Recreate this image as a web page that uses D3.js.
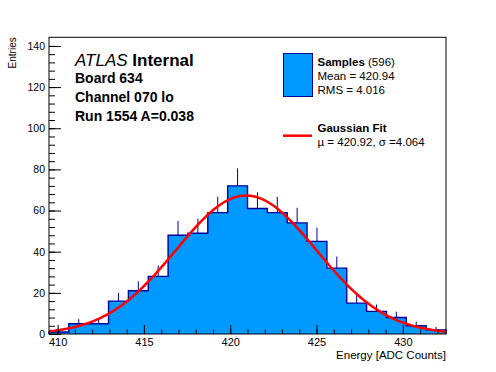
<!DOCTYPE html>
<html>
<head>
<meta charset="utf-8">
<script src="https://cdn.jsdelivr.net/npm/d3@7"></script>
<style>
  body { margin: 0; background: #fff; }
  text { font-family: "Liberation Sans", Arial, Helvetica, sans-serif; }
</style>
</head>
<body>
<div id="chart"></div>
<script>
// Data
const counts = [1, 5, 5, 16, 21, 28, 48, 49, 59, 72, 61, 59, 54, 45, 32, 15, 11, 8, 4, 2];
const xRange = [409.5, 432.5];   // histogram range, 20 bins
const yRange = [0, 144.2];
const xTickValues = [410, 415, 420, 425, 430];
const yTickValues = [0, 20, 40, 60, 80, 100, 120, 140];
const infoLines = ["Board 634", "Channel 070 lo", "Run 1554 A=0.038"];
const nSamples = 596;
const sampleMean = "420.94";
const sampleRms = "4.016";
const fitMu = 420.92;
const fitSigma = 4.064;

const width = 496, height = 372;
const frame = { left: 49, right: 446, top: 37.3, bottom: 334 };

const svg = d3.select("#chart")
  .append("svg")
  .attr("width", width)
  .attr("height", height);

const x = d3.scaleLinear().domain(xRange).range([frame.left, frame.right]);
const y = d3.scaleLinear().domain(yRange).range([frame.bottom, frame.top]);

const binWidth = (xRange[1] - xRange[0]) / counts.length;
const bins = counts.map((c, i) => ({
  x0: xRange[0] + i * binWidth,
  x1: xRange[0] + (i + 1) * binWidth,
  n: c
}));

// histogram as a step polygon
const stepPts = [[x(bins[0].x0), y(0)]];
bins.forEach(b => {
  stepPts.push([x(b.x0), y(b.n)]);
  stepPts.push([x(b.x1), y(b.n)]);
});
stepPts.push([x(bins[bins.length - 1].x1), y(0)]);

svg.append("path")
  .attr("d", d3.line()(stepPts))
  .attr("fill", "#0099ff")
  .attr("stroke", "#000099")
  .attr("stroke-width", 1.4);

// error bars (upper half only is visible)
svg.selectAll(".err")
  .data(bins)
  .enter()
  .append("line")
  .attr("class", "err")
  .attr("x1", d => x((d.x0 + d.x1) / 2))
  .attr("x2", d => x((d.x0 + d.x1) / 2))
  .attr("y1", d => y(d.n))
  .attr("y2", d => y(d.n + Math.sqrt(d.n)))
  .attr("stroke", "#000099")
  .attr("stroke-width", 1);

// gaussian fit curve from the fitted parameters
const amp = nSamples * binWidth / (fitSigma * Math.sqrt(2 * Math.PI));
const fitPts = d3.range(0, 201).map(i => {
  const xv = xRange[0] + i * (xRange[1] - xRange[0]) / 200;
  return [xv, amp * Math.exp(-0.5 * Math.pow((xv - fitMu) / fitSigma, 2))];
});
svg.append("path")
  .attr("d", d3.line().x(d => x(d[0])).y(d => y(d[1]))(fitPts))
  .attr("fill", "none")
  .attr("stroke", "#ff0000")
  .attr("stroke-width", 2.5);

// axes
const yMinor = d3.range(0, 144, 4);
svg.append("g")
  .attr("transform", `translate(${frame.left},0)`)
  .call(d3.axisLeft(y).tickValues(yMinor).tickSize(-6).tickFormat(""))
  .call(g => g.select(".domain").remove());
svg.append("g")
  .attr("transform", `translate(${frame.left},0)`)
  .call(d3.axisLeft(y).tickValues(yTickValues).tickSize(-12).tickPadding(4))
  .call(g => g.select(".domain").remove())
  .call(g => g.selectAll("text").attr("font-size", 10.5).attr("fill", "#000").style("font-family", null));

const xMinor = d3.range(410, 433, 1);
svg.append("g")
  .attr("transform", `translate(0,${frame.bottom})`)
  .call(d3.axisBottom(x).tickValues(xMinor).tickSize(-4.5).tickFormat(""))
  .call(g => g.select(".domain").remove());
svg.append("g")
  .attr("transform", `translate(0,${frame.bottom})`)
  .call(d3.axisBottom(x).tickValues(xTickValues).tickSize(-9).tickPadding(4))
  .call(g => g.select(".domain").remove())
  .call(g => g.selectAll("text").attr("font-size", 11).attr("fill", "#000").style("font-family", null));

svg.selectAll(".tick line").attr("stroke", "#000");

// frame
svg.append("rect")
  .attr("x", frame.left)
  .attr("y", frame.top)
  .attr("width", frame.right - frame.left)
  .attr("height", frame.bottom - frame.top)
  .attr("fill", "none")
  .attr("stroke", "#000")
  .attr("stroke-width", 1);

// axis titles
svg.append("text")
  .attr("x", frame.right)
  .attr("y", 358.5)
  .attr("text-anchor", "end")
  .attr("font-size", 11.5)
  .text("Energy [ADC Counts]");

svg.append("text")
  .attr("transform", `translate(16,${frame.top}) rotate(-90)`)
  .attr("text-anchor", "end")
  .attr("font-size", 10)
  .text("Entries");

// ATLAS label
const atlas = svg.append("text")
  .attr("x", 75)
  .attr("y", 66)
  .attr("font-size", 17);
atlas.append("tspan").attr("font-style", "italic").text("ATLAS");
atlas.append("tspan").attr("font-weight", "bold").text(" Internal");

svg.selectAll(".info")
  .data(infoLines)
  .enter()
  .append("text")
  .attr("class", "info")
  .attr("x", 75)
  .attr("y", (d, i) => 82.5 + i * 19.2)
  .attr("font-size", 14)
  .attr("font-weight", "bold")
  .text(d => d);

// legend
svg.append("rect")
  .attr("x", 283.5)
  .attr("y", 53.5)
  .attr("width", 29)
  .attr("height", 43)
  .attr("fill", "#0099ff")
  .attr("stroke", "#000099")
  .attr("stroke-width", 1);

const l1 = svg.append("text").attr("x", 317.5).attr("y", 66).attr("font-size", 11.5);
l1.append("tspan").attr("font-weight", "bold").text("Samples");
l1.append("tspan").text(` (${nSamples})`);
svg.append("text").attr("x", 317.5).attr("y", 80).attr("font-size", 11.5).text(`Mean = ${sampleMean}`);
svg.append("text").attr("x", 317.5).attr("y", 94).attr("font-size", 11.5).text(`RMS = ${sampleRms}`);

svg.append("line")
  .attr("x1", 283).attr("x2", 312)
  .attr("y1", 135.7).attr("y2", 135.7)
  .attr("stroke", "#ff0000")
  .attr("stroke-width", 2.5);
svg.append("text").attr("x", 317.5).attr("y", 132).attr("font-size", 11.5)
  .attr("font-weight", "bold").text("Gaussian Fit");
svg.append("text").attr("x", 317.5).attr("y", 145.5).attr("font-size", 11.5)
  .text(`\u00b5 = ${fitMu.toFixed(2)}, \u03c3 =${fitSigma.toFixed(3)}`);
</script>
</body>
</html>
